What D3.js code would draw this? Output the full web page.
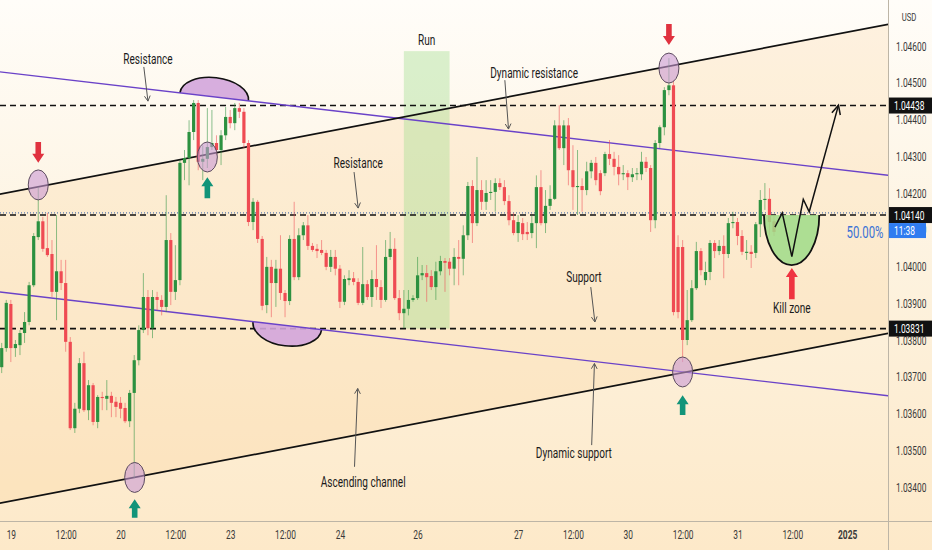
<!DOCTYPE html>
<html>
<head>
<meta charset="utf-8">
<script src="https://cdn.jsdelivr.net/npm/d3@7"></script>
<style>
  html, body { margin: 0; padding: 0; background: #fdf1dd; }
  svg { display: block; font-family: Roboto, "Liberation Sans", sans-serif; }
</style>
</head>
<body>
<svg id="chart" width="932" height="550"></svg>
<script>
// EUR/USD hourly candles (index 0 = first visible bar)
var candleOpen = [1.03726,1.03778,1.03898,1.03778,1.03786,1.03819,1.03849,1.03949,1.04080,1.04123,
  1.04050,1.04034,1.03931,1.03987,1.03955,1.03795,1.03560,1.03613,1.03737,1.03609,
  1.03677,1.03577,1.03645,1.03640,1.03648,1.03632,1.03629,1.03615,1.03579,1.03656,
  1.03745,1.03827,1.03917,1.03832,1.03917,1.03909,1.03890,1.04072,1.03931,1.03963,
  1.04282,1.04295,1.04366,1.04445,1.04285,1.04293,1.04325,1.04336,1.04317,1.04357,
  1.04407,1.04390,1.04431,1.04421,1.04336,1.04121,1.04176,1.04075,1.03895,1.03999,
  1.03955,1.03994,1.03928,1.03906,1.04075,1.03971,1.04085,1.04112,1.04056,1.04048,
  1.04045,1.04037,1.03999,1.04026,1.03994,1.03904,1.03963,1.03968,1.03958,1.03901,
  1.03952,1.03917,1.03966,1.03944,1.03909,1.04026,1.04048,1.03914,1.03873,1.03885,
  1.03909,1.03914,1.03976,1.03982,1.03974,1.03944,1.03987,1.04015,1.04013,1.03994,
  1.04026,1.04021,1.04085,1.04219,1.04118,1.04208,1.04176,1.04200,1.04203,1.04227,
  1.04216,1.04178,1.04126,1.04091,1.04118,1.04094,1.04091,1.04118,1.04216,1.04118,
  1.04165,1.04184,1.04384,1.04322,1.04384,1.04262,1.04216,1.04219,1.04208,1.04259,
  1.04282,1.04254,1.04254,1.04306,1.04293,1.04271,1.04251,1.04254,1.04243,1.04251,
  1.04251,1.04285,1.04268,1.04126,1.04336,1.04379,1.04480,1.04493,1.04053,1.04053,
  1.03800,1.03854,1.03941,1.04042,1.03963,1.03985,1.04064,1.04042,1.04056,1.04034,
  1.04118,1.04121,1.04083,1.04037,1.04040,1.04037,1.04115,1.04181,1.04184,1.04123];
var candleHigh = [1.03792,1.03909,1.03909,1.03800,1.03827,1.03876,1.03958,1.04091,1.04216,1.04135,
  1.04146,1.04072,1.04140,1.04018,1.04018,1.03808,1.03629,1.03751,1.03768,1.03691,
  1.03683,1.03650,1.03659,1.03691,1.03659,1.03645,1.03645,1.03629,1.03664,1.03759,
  1.03840,1.03982,1.03936,1.03936,1.03931,1.03922,1.04194,1.04091,1.04058,1.04290,
  1.04317,1.04398,1.04453,1.04453,1.04330,1.04431,1.04426,1.04357,1.04371,1.04434,
  1.04426,1.04445,1.04445,1.04431,1.04344,1.04186,1.04181,1.04083,1.04026,1.04018,
  1.04018,1.04085,1.03936,1.04085,1.04176,1.04104,1.04121,1.04140,1.04064,1.04061,
  1.04072,1.04045,1.04045,1.04045,1.04004,1.03976,1.03990,1.03985,1.03968,1.04053,
  1.03963,1.03990,1.04058,1.03963,1.04072,1.04094,1.04077,1.03936,1.03936,1.03936,
  1.03922,1.04026,1.04004,1.04004,1.03990,1.04013,1.04029,1.04023,1.04023,1.04050,
  1.04072,1.04112,1.04230,1.04235,1.04298,1.04235,1.04235,1.04235,1.04240,1.04240,
  1.04235,1.04194,1.04146,1.04140,1.04132,1.04121,1.04140,1.04248,1.04262,1.04208,
  1.04221,1.04398,1.04439,1.04398,1.04404,1.04330,1.04317,1.04240,1.04285,1.04290,
  1.04298,1.04262,1.04312,1.04344,1.04312,1.04303,1.04276,1.04262,1.04268,1.04268,
  1.04312,1.04298,1.04276,1.04344,1.04384,1.04488,1.04567,1.04507,1.04085,1.04072,
  1.03936,1.03963,1.04067,1.04050,1.04013,1.04072,1.04072,1.04072,1.04085,1.04132,
  1.04149,1.04132,1.04099,1.04072,1.04058,1.04121,1.04208,1.04227,1.04213,1.04140];
var candleLow = [1.03710,1.03768,1.03740,1.03754,1.03759,1.03792,1.03840,1.03944,1.04072,1.04040,
  1.04026,1.03917,1.03854,1.03936,1.03768,1.03555,1.03547,1.03601,1.03604,1.03582,
  1.03568,1.03560,1.03609,1.03609,1.03590,1.03590,1.03587,1.03574,1.03563,1.03424,
  1.03731,1.03819,1.03813,1.03805,1.03881,1.03867,1.03876,1.03895,1.03909,1.03949,
  1.04235,1.04221,1.04344,1.04262,1.04235,1.04268,1.04317,1.04303,1.04276,1.04344,
  1.04376,1.04371,1.04404,1.04322,1.04110,1.04099,1.04064,1.03881,1.03873,1.03862,
  1.03890,1.03909,1.03862,1.03895,1.03963,1.03963,1.04072,1.04045,1.04040,1.04023,
  1.04031,1.03990,1.03985,1.03976,1.03887,1.03895,1.03949,1.03949,1.03895,1.03895,
  1.03909,1.03890,1.03909,1.03887,1.03904,1.04018,1.03909,1.03854,1.03832,1.03867,
  1.03904,1.03909,1.03963,1.03904,1.03936,1.03909,1.03976,1.03931,1.03976,1.03949,
  1.03949,1.03976,1.04072,1.04064,1.04110,1.04154,1.04154,1.04181,1.04149,1.04208,
  1.04167,1.04112,1.04085,1.04067,1.04072,1.04072,1.04077,1.04050,1.04112,1.04091,
  1.04154,1.04181,1.04317,1.04276,1.04221,1.04154,1.04140,1.04149,1.04194,1.04240,
  1.04221,1.04194,1.04246,1.04276,1.04248,1.04221,1.04235,1.04208,1.04230,1.04235,
  1.04235,1.04257,1.04094,1.04104,1.04322,1.04357,1.04466,1.03867,1.03859,1.03740,
  1.03786,1.03849,1.03936,1.03976,1.03949,1.03963,1.04023,1.04031,1.03968,1.04023,
  1.04104,1.04058,1.04031,1.04018,1.03996,1.04023,1.04080,1.04154,1.04085,1.04083];
var candleClose = [1.03778,1.03901,1.03778,1.03789,1.03819,1.03849,1.03949,1.04083,1.04123,1.04048,
  1.04031,1.03931,1.03987,1.03955,1.03795,1.03560,1.03613,1.03737,1.03609,1.03677,
  1.03577,1.03645,1.03642,1.03648,1.03629,1.03618,1.03613,1.03579,1.03656,1.03745,
  1.03827,1.03917,1.03832,1.03917,1.03909,1.03890,1.04072,1.03931,1.03963,1.04282,
  1.04295,1.04366,1.04445,1.04285,1.04293,1.04325,1.04336,1.04317,1.04357,1.04407,
  1.04390,1.04431,1.04421,1.04336,1.04121,1.04176,1.04075,1.03893,1.03999,1.03955,
  1.03994,1.03928,1.03906,1.04075,1.03971,1.04085,1.04112,1.04056,1.04045,1.04042,
  1.04037,1.03999,1.04026,1.03994,1.03904,1.03966,1.03968,1.03958,1.03901,1.03952,
  1.03917,1.03966,1.03944,1.03909,1.04026,1.04048,1.03914,1.03873,1.03885,1.03909,
  1.03914,1.03976,1.03982,1.03971,1.03944,1.03987,1.04015,1.04010,1.03994,1.04026,
  1.04021,1.04085,1.04219,1.04118,1.04208,1.04176,1.04200,1.04203,1.04227,1.04216,
  1.04178,1.04126,1.04091,1.04121,1.04088,1.04088,1.04118,1.04216,1.04118,1.04165,
  1.04184,1.04384,1.04322,1.04384,1.04262,1.04216,1.04219,1.04208,1.04259,1.04282,
  1.04235,1.04205,1.04306,1.04293,1.04271,1.04251,1.04254,1.04243,1.04251,1.04254,
  1.04285,1.04268,1.04126,1.04336,1.04379,1.04480,1.04493,1.03876,1.03876,1.03800,
  1.03854,1.03941,1.04042,1.03990,1.03985,1.04064,1.04042,1.04056,1.04034,1.04118,
  1.04121,1.04083,1.04040,1.04040,1.04034,1.04115,1.04181,1.04184,1.04121,1.04094];

// time axis (bar index -> label)
var timeTickIdx = [2, 14, 26, 38, 50, 62, 74, 91, 113, 125, 137, 149, 161, 173, 185];
var timeTickLabels = ["19", "12:00", "20", "12:00", "23", "12:00", "24", "26", "27", "12:00", "30", "12:00", "31", "12:00", "2025"];

// price axis
var priceTicks = [1.034, 1.035, 1.036, 1.037, 1.038, 1.039, 1.040, 1.041, 1.042, 1.043, 1.044, 1.045, 1.046];
var levelPrices = [1.04438, 1.04140, 1.03831];
var levelLabels = ["1.04438", "1.04140", "1.03831"];
var lastPrice = 1.04146;

// drawn trend lines: [bar index, price] pairs
var channelUpper = [[0, 1.04198], [194, 1.04659]];
var channelLower = [[0, 1.03357], [194, 1.03818]];
var trendUpper = [[0, 1.04529], [194, 1.04248]];
var trendLower = [[0, 1.03930], [194, 1.03648]];

// shaded "Run" zone: start, end bar, top, bottom price
var runZone = [88, 98, 1.04586, 1.03831];

// half-ellipses sitting on the purple lines: from bar, to bar, apex price
var domeTop = [39, 54, 1.04514];
var bowlBottom = [55, 70, 1.03784];

// small marker ellipses: bar, price
var markers = [[8, 1.04222], [45, 1.04298], [146, 1.04540], [149, 1.03713], [29.1, 1.03426]];

// block arrows: bar, tip price, tail price, colour
var blockArrows = [
  [8, 1.04282, 1.04339, "#e0323f"],
  [146, 1.04603, 1.04660, "#e0323f"],
  [45, 1.04243, 1.04186, "#129479"],
  [149, 1.03650, 1.03596, "#129479"],
  [29.1, 1.03367, 1.03316, "#129479"],
  [172.9, 1.03996, 1.03911, "#ef3340"]
];

// text labels: text, bar, price
var noteText = ["Resistance", "Run", "Dynamic resistance", "Resistance", "Support", "Dynamic support", "Ascending channel", "Kill zone"];
var noteIdx = [32, 93, 116.5, 78, 127.4, 125.2, 79.1, 172.9];
var notePrice = [1.04564, 1.04616, 1.04526, 1.04282, 1.03971, 1.03492, 1.03414, 1.03887];

// pointer arrows: from [bar, price] to [bar, price]
var pointers = [
  [[31.1, 1.04543], [32, 1.04450]],
  [[110.1, 1.04507], [110.9, 1.04374]],
  [[77.1, 1.04257], [78, 1.04159]],
  [[128.9, 1.03944], [129.8, 1.03849]],
  [[129.1, 1.03514], [129.7, 1.03736]],
  [[77.2, 1.03455], [77.9, 1.03668]]
];

// projected path and target bowl
var pathIdx = [169.2, 170.8, 172.9, 175.4, 176.7, 183.1];
var pathPrice = [1.04107, 1.04146, 1.04027, 1.04183, 1.04149, 1.04439];
var killBowl = [166.8, 178.9, 1.04140, 1.04004];
var fibText = "50.00%";
var fibIdx = 188.9, fibPrice = 1.04094;

var W = 932, H = 550, plotW = 888, plotH = 521;
var textSqueeze = 0.67;

var x = d3.scaleLinear().domain([0, 190]).range([1.7, 1.7 + 4.57 * 190]);
var y = d3.scaleLinear().domain([1.034, 1.046]).range([487, 46]);

var svg = d3.select("#chart");
var defs = svg.append("defs");

// narrow every text like the source
function condense(sel, k) {
  sel.each(function() {
    var w = this.getComputedTextLength();
    d3.select(this).attr("textLength", w * k).attr("lengthAdjust", "spacingAndGlyphs");
  });
}

function lineAt(seg, i) {
  var t = (i - seg[0][0]) / (seg[1][0] - seg[0][0]);
  return seg[0][1] + t * (seg[1][1] - seg[0][1]);
}

// background
var grad = defs.append("linearGradient").attr("id", "bg")
  .attr("x1", 0).attr("y1", 0).attr("x2", 0).attr("y2", 1);
grad.append("stop").attr("offset", "0%").attr("stop-color", "#fffdf9");
grad.append("stop").attr("offset", "50%").attr("stop-color", "#fdf2de");
grad.append("stop").attr("offset", "100%").attr("stop-color", "#fde9c9");
svg.append("rect").attr("width", W).attr("height", H).attr("fill", "url(#bg)");

defs.append("clipPath").attr("id", "plotClip")
  .append("rect").attr("width", plotW).attr("height", plotH);
var plot = svg.append("g").attr("clip-path", "url(#plotClip)");

// channel fill
var chanPts = [-5, 200].map(function(i) { return [x(i), y(lineAt(channelUpper, i))]; })
  .concat([200, -5].map(function(i) { return [x(i), y(lineAt(channelLower, i))]; }));
plot.append("path")
  .attr("d", d3.line()(chanPts) + "Z")
  .attr("fill", "#fcc882")
  .attr("fill-opacity", 0.2);

// Run zone
plot.append("rect")
  .attr("x", x(runZone[0]))
  .attr("y", y(runZone[2]))
  .attr("width", x(runZone[1]) - x(runZone[0]))
  .attr("height", y(runZone[3]) - y(runZone[2]))
  .attr("fill", "#9fdc8c")
  .attr("fill-opacity", 0.38);

// horizontal levels
plot.append("line")
  .attr("x1", 0).attr("x2", plotW)
  .attr("y1", y(lastPrice)).attr("y2", y(lastPrice))
  .attr("stroke", "#5b79ad").attr("stroke-width", 1.2).attr("stroke-dasharray", "1,2");
levelPrices.forEach(function(p) {
  plot.append("line")
    .attr("x1", 0).attr("x2", plotW)
    .attr("y1", y(p)).attr("y2", y(p))
    .attr("stroke", "#111").attr("stroke-width", 1.6).attr("stroke-dasharray", "6,4");
});

// half ellipses on the purple lines
function halfEllipse(seg, spec, sweep) {
  var x1 = x(spec[0]), y1 = y(lineAt(seg, spec[0]));
  var x2 = x(spec[1]), y2 = y(lineAt(seg, spec[1]));
  var rx = Math.hypot(x2 - x1, y2 - y1) / 2;
  var mid = (spec[0] + spec[1]) / 2;
  var ry = Math.abs(y(lineAt(seg, mid)) - y(spec[2]));
  var ang = Math.atan2(y2 - y1, x2 - x1) * 180 / Math.PI;
  plot.append("path")
    .attr("d", "M" + x1 + "," + y1 + " A" + rx + "," + ry + " " + ang + " 0 " + sweep + " " + x2 + "," + y2)
    .attr("fill", "#d3a5dc")
    .attr("fill-opacity", 0.9)
    .attr("stroke", "#111")
    .attr("stroke-width", 1.6);
}
halfEllipse(trendUpper, domeTop, 1);
halfEllipse(trendLower, bowlBottom, 0);

// trend lines
function drawSeg(seg, color, width) {
  plot.append("line")
    .attr("x1", x(-5)).attr("y1", y(lineAt(seg, -5)))
    .attr("x2", x(200)).attr("y2", y(lineAt(seg, 200)))
    .attr("stroke", color).attr("stroke-width", width);
}
drawSeg(trendUpper, "#6a42c8", 1.4);
drawSeg(trendLower, "#6a42c8", 1.4);
drawSeg(channelUpper, "#111", 1.7);
drawSeg(channelLower, "#111", 1.7);

// candles
var candles = candleOpen.map(function(o, i) {
  return { i: i, o: o, h: candleHigh[i], l: candleLow[i], c: candleClose[i] };
});
var green = "#2c9140", red = "#ef4b53";
plot.append("g").selectAll("line")
  .data(candles).join("line")
  .attr("x1", function(d) { return x(d.i); })
  .attr("x2", function(d) { return x(d.i); })
  .attr("y1", function(d) { return y(d.h); })
  .attr("y2", function(d) { return y(d.l); })
  .attr("stroke", function(d) { return d.c >= d.o ? green : red; })
  .attr("stroke-opacity", 0.55)
  .attr("stroke-width", 1);
plot.append("g").selectAll("rect")
  .data(candles).join("rect")
  .attr("x", function(d) { return x(d.i) - 1.6; })
  .attr("width", 3.2)
  .attr("y", function(d) { return y(Math.max(d.o, d.c)); })
  .attr("height", function(d) { return Math.max(1, Math.abs(y(d.o) - y(d.c))); })
  .attr("fill", function(d) { return d.c >= d.o ? green : red; });

// marker ellipses
plot.append("g").selectAll("ellipse")
  .data(markers).join("ellipse")
  .attr("cx", function(d) { return x(d[0]); })
  .attr("cy", function(d) { return y(d[1]); })
  .attr("rx", 10).attr("ry", 15)
  .attr("fill", "#c99ad3").attr("fill-opacity", 0.6)
  .attr("stroke", "#5b4b5e").attr("stroke-width", 1);

// block arrows
blockArrows.forEach(function(a) {
  var cx = x(a[0]), tip = y(a[1]), tail = y(a[2]);
  var dir = tail > tip ? 1 : -1;
  var hb = tip + dir * 9;
  var pts = [[cx, tip], [cx + 6, hb], [cx + 2.8, hb], [cx + 2.8, tail], [cx - 2.8, tail], [cx - 2.8, hb], [cx - 6, hb]];
  plot.append("path").attr("d", d3.line()(pts) + "Z").attr("fill", a[3]);
});

// kill zone bowl
var bx1 = x(killBowl[0]), bx2 = x(killBowl[1]), by = y(killBowl[2]);
var brx = (bx2 - bx1) / 2, bry = y(killBowl[3]) - by;
plot.append("path")
  .attr("d", "M" + bx1 + "," + by + " A" + brx + "," + bry + " 0 0 0 " + bx2 + "," + by)
  .attr("fill", "#9fdc88").attr("fill-opacity", 0.85)
  .attr("stroke", "#111").attr("stroke-width", 1.8);

// projected path with open arrow head
var pathPts = pathIdx.map(function(i, k) { return [x(i), y(pathPrice[k])]; });
plot.append("path")
  .attr("d", d3.line()(pathPts))
  .attr("fill", "none").attr("stroke", "#111").attr("stroke-width", 1.5);
function openHead(from, to, len, spread, color, width) {
  var ang = Math.atan2(to[1] - from[1], to[0] - from[0]);
  var a1 = ang + Math.PI - spread, a2 = ang + Math.PI + spread;
  var d = "M" + (to[0] + len * Math.cos(a1)) + "," + (to[1] + len * Math.sin(a1)) +
    " L" + to[0] + "," + to[1] +
    " L" + (to[0] + len * Math.cos(a2)) + "," + (to[1] + len * Math.sin(a2));
  plot.append("path").attr("d", d).attr("fill", "none").attr("stroke", color).attr("stroke-width", width);
}
openHead(pathPts[4], pathPts[5], 10, 0.45, "#111", 1.5);

// pointer arrows
pointers.forEach(function(p) {
  var a = [x(p[0][0]), y(p[0][1])], b = [x(p[1][0]), y(p[1][1])];
  plot.append("line")
    .attr("x1", a[0]).attr("y1", a[1]).attr("x2", b[0]).attr("y2", b[1])
    .attr("stroke", "#555").attr("stroke-width", 1);
  openHead(a, b, 6, 0.5, "#555", 1);
});

// labels
var notes = plot.append("g").selectAll("text")
  .data(noteText).join("text")
  .attr("x", function(d, k) { return x(noteIdx[k]); })
  .attr("y", function(d, k) { return y(notePrice[k]); })
  .attr("text-anchor", "middle")
  .attr("dominant-baseline", "central")
  .attr("font-size", 15)
  .attr("fill", "#1b1b1b")
  .text(function(d) { return d; });
condense(notes, textSqueeze);

var fib = plot.append("text")
  .attr("x", x(fibIdx)).attr("y", y(fibPrice))
  .attr("text-anchor", "middle").attr("dominant-baseline", "central")
  .attr("font-size", 17).attr("fill", "#3b72d6")
  .text(fibText);
condense(fib, textSqueeze);

// axes
svg.append("line").attr("x1", plotW + 0.5).attr("x2", plotW + 0.5).attr("y1", 0).attr("y2", H)
  .attr("stroke", "#bdb5a6").attr("stroke-width", 1);
svg.append("line").attr("x1", 0).attr("x2", W).attr("y1", plotH + 0.5).attr("y2", plotH + 0.5)
  .attr("stroke", "#bdb5a6").attr("stroke-width", 1);

var yAxis = d3.axisRight(y).tickValues(priceTicks).tickFormat(d3.format(".5f")).tickSize(0).tickPadding(8);
var gy = svg.append("g").attr("transform", "translate(" + plotW + ",0)").call(yAxis);
gy.select(".domain").remove();
gy.attr("font-family", null).attr("font-size", 12.5);
gy.selectAll("text").attr("fill", "#3a3a3a");
condense(gy.selectAll("text"), textSqueeze);

var xAxis = d3.axisBottom(x).tickValues(timeTickIdx)
  .tickFormat(function(d, k) { return timeTickLabels[k]; })
  .tickSize(0).tickPadding(9);
var gx = svg.append("g").attr("transform", "translate(0," + plotH + ")").call(xAxis);
gx.select(".domain").remove();
gx.attr("font-family", null).attr("font-size", 12.5);
gx.selectAll("text").attr("fill", "#3a3a3a")
  .attr("font-weight", function(d, k) { return timeTickLabels[k] === "2025" ? "bold" : null; });
condense(gx.selectAll("text"), textSqueeze);

var usd = svg.append("text").attr("x", 909).attr("y", 17)
  .attr("text-anchor", "middle").attr("dominant-baseline", "central")
  .attr("font-size", 11.5).attr("fill", "#3a3a3a").text("USD");
condense(usd, textSqueeze);

// level price tags
levelPrices.forEach(function(p, k) {
  svg.append("rect").attr("x", plotW + 1).attr("y", y(p) - 8).attr("width", W - plotW - 1).attr("height", 16)
    .attr("fill", "#111");
  var t = svg.append("text").attr("x", plotW + 6).attr("y", y(p))
    .attr("dominant-baseline", "central").attr("font-size", 12.5).attr("fill", "#fff")
    .text(levelLabels[k]);
  condense(t, textSqueeze);
});
svg.append("rect").attr("x", plotW + 1).attr("y", y(levelPrices[1]) + 8).attr("width", 37).attr("height", 15)
  .attr("fill", "#2f7cf0");
var cd = svg.append("text").attr("x", plotW + 6).attr("y", y(levelPrices[1]) + 15.5)
  .attr("dominant-baseline", "central").attr("font-size", 12.5).attr("fill", "#fff").text("11:38");
condense(cd, textSqueeze);
</script>
</body>
</html>
